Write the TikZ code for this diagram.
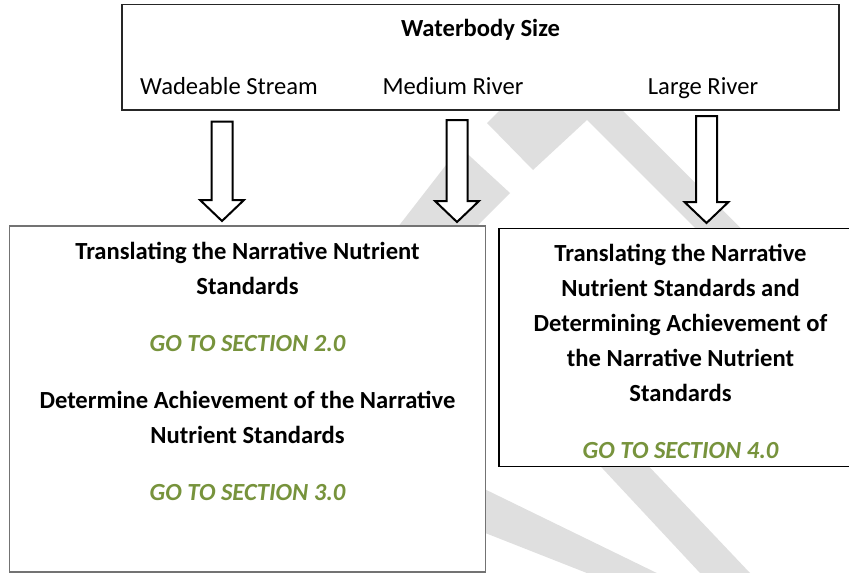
\documentclass[tikz,border=0pt]{standalone}
\usepackage{fontspec}
\setmainfont{Carlito}
\usetikzlibrary{calc}
\definecolor{gogreen}{HTML}{77933C}
\definecolor{wmark}{HTML}{DFDFDF}
\tikzset{
  box/.style={draw=#1, line width=1.6pt, fill=white, inner sep=0pt},
  box/.default=black!85,
  txt/.style={anchor=base, inner sep=0pt, font=\fontsize{24.6}{35}\selectfont},
  head/.style={txt, font=\fontsize{24.6}{35}\selectfont\bfseries},
  goto/.style={txt, font=\fontsize{24.6}{35}\selectfont\bfseries\itshape, text=gogreen},
  blockarrow/.style={draw=black, line width=2pt, fill=white, line join=miter},
}
\newcommand{\blockarr}[2]{%
  \draw[blockarrow] ($(#1)+(-10.5,0)$) -- ($(#2)+(-10.5,-21)$) -- ($(#2)+(-22,-21)$) -- (#2)
    -- ($(#2)+(22,-21)$) -- ($(#2)+(10.5,-21)$) -- ($(#1)+(10.5,0)$) -- cycle;}
\begin{document}
\begin{tikzpicture}[x=1pt,y=-1pt]
\useasboundingbox (0,0) rectangle (849,573);
\clip (0,0) rectangle (849,573);
% watermark
\fill[wmark] (487,123) -- (533,170) -- (587,120) -- (849,382) -- (849,336) -- (561,49) -- cycle;
\fill[wmark] (460,147) -- (510,193) -- (440,263) -- (370,263) -- cycle;
\fill[wmark] (520,380) -- (567,380) -- (750,573) -- (700,573) -- cycle;
\fill[wmark] (470,482) -- (665,577) -- (597,577) -- (470,527) -- cycle;
% boxes
\node[box, minimum width=717pt, minimum height=105.5pt] (top) at (480.5,57.3) {};
\node[box=black!55, minimum width=476pt, minimum height=346pt] (left) at (247.5,399) {};
\node[box=black, minimum width=352pt, minimum height=238pt] (right) at (675,347.5) {};
% top texts
\node[head] (ws) at (480.5,36.5) {Waterbody Size};
\node[txt] (wade) at (229,94) {Wadeable Stream};
\node[txt] (med) at (453,94) {Medium River};
\node[txt] (large) at (703,94) {Large River};
% left box texts
\node[head] (l1) at (247.5,259) {Translating the Narrative Nutrient};
\node[head] (l2) at (247.5,294) {Standards};
\node[goto] (l3) at (247.5,351) {GO TO SECTION 2.0};
\node[head] (l4) at (247.5,408) {Determine Achievement of the Narrative};
\node[head] (l5) at (247.5,443) {Nutrient Standards};
\node[goto] (l6) at (247.5,500) {GO TO SECTION 3.0};
% right box texts
\node[head] (r1) at (680.5,261) {Translating the Narrative};
\node[head] (r2) at (680.5,296) {Nutrient Standards and};
\node[head] (r3) at (680.5,331) {Determining Achievement of};
\node[head] (r4) at (680.5,366) {the Narrative Nutrient};
\node[head] (r5) at (680.5,401) {Standards};
\node[goto] (r6) at (680.5,458.5) {GO TO SECTION 4.0};
% arrows
\coordinate (a1s) at (222,121.5);
\coordinate (a1e) at (222,221);
\coordinate (a2s) at (457,120);
\coordinate (a2e) at (457,222);
\coordinate (a3s) at (706.5,116);
\coordinate (a3e) at (706.5,223);
\blockarr{a1s}{a1e}
\blockarr{a2s}{a2e}
\blockarr{a3s}{a3e}
\end{tikzpicture}
\end{document}
